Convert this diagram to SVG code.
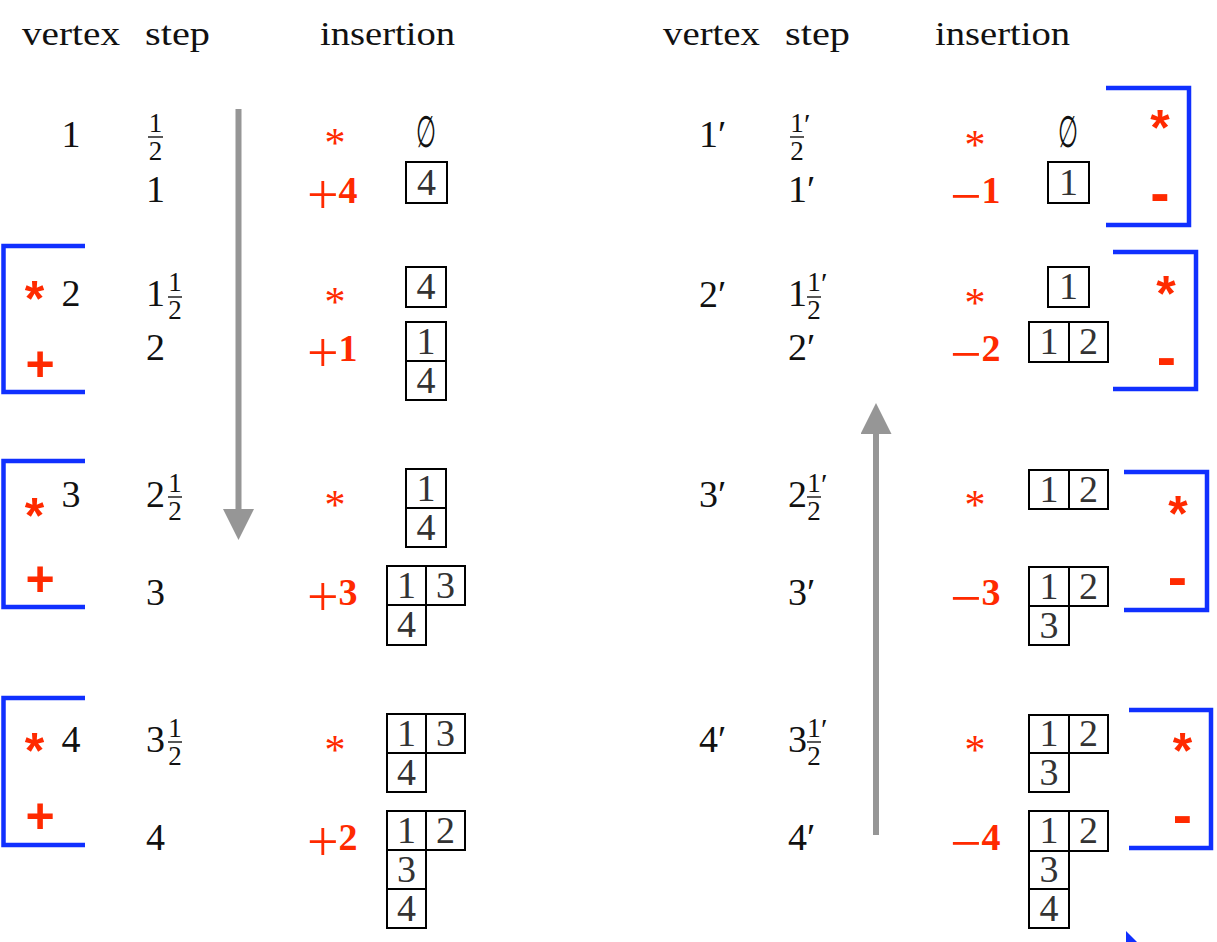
<svg xmlns="http://www.w3.org/2000/svg" width="1217" height="942" viewBox="0 0 1217 942">
  <style>
    .t { font-family: "Liberation Serif", "DejaVu Serif", serif; font-size: 38px; fill: #111; }
    .h { font-family: "Liberation Serif", "DejaVu Serif", serif; font-size: 34px; fill: #111; }
    .fr { font-family: "Liberation Serif", "DejaVu Serif", serif; font-size: 27px; fill: #111; text-anchor: middle; }
    .pr { font-family: "Liberation Serif", "DejaVu Serif", serif; font-size: 30px; fill: #111; }
    .es { font-family: "Liberation Serif", "DejaVu Serif", serif; font-size: 38px; fill: #111; text-anchor: middle; }
    .bar { stroke: #111; stroke-width: 1.4; }
    .cell { fill: none; stroke: #000; stroke-width: 2; }
    .cd { font-family: "Liberation Serif", "DejaVu Serif", serif; font-size: 38px; fill: #333; text-anchor: middle; }
    .rs { font-family: "Liberation Serif", "DejaVu Serif", serif; font-size: 42px; fill: #ff2a00; text-anchor: middle; }
    .ins { font-family: "Liberation Serif", "DejaVu Serif", serif; font-size: 38px; fill: #ff2a00; }
    .op { font-size: 56px; }
    .rb { font-weight: bold; }
    .mk { font-family: "Liberation Sans", Arial, sans-serif; font-size: 50px; font-weight: bold; fill: #ff2a00; text-anchor: middle; }
    .mm { font-family: "Liberation Sans", Arial, sans-serif; font-size: 58px; font-weight: bold; fill: #ff2a00; text-anchor: middle; }
    .br { fill: none; stroke: #1030ff; stroke-width: 4.5; }
    .flow { stroke: #969696; stroke-width: 6; fill: none; }
  </style>
  <defs>
    <marker id="head" viewBox="0 0 31 31" refX="0" refY="15.5" markerWidth="31" markerHeight="31" markerUnits="userSpaceOnUse" orient="auto">
      <path d="M0,0 L31,15.5 L0,31 z" fill="#969696"/>
    </marker>
  </defs>

  <!-- column headings -->
  <g id="headings">
    <text class="h" x="22" y="45" textLength="98" lengthAdjust="spacingAndGlyphs">vertex</text>
    <text class="h" x="145" y="45" textLength="65" lengthAdjust="spacingAndGlyphs">step</text>
    <text class="h" x="320" y="45" textLength="135" lengthAdjust="spacingAndGlyphs">insertion</text>
    <text class="h" x="663" y="45" textLength="97" lengthAdjust="spacingAndGlyphs">vertex</text>
    <text class="h" x="785" y="45" textLength="65" lengthAdjust="spacingAndGlyphs">step</text>
    <text class="h" x="935" y="45" textLength="135" lengthAdjust="spacingAndGlyphs">insertion</text>
  </g>

  <!-- flow arrows -->
  <g id="connectors">
    <line class="flow" x1="238.5" y1="109" x2="238.5" y2="509" marker-end="url(#head)"/>
    <line class="flow" x1="876" y1="835" x2="876" y2="434" marker-end="url(#head)"/>
  </g>

  <!-- ===== left half: insertion ===== -->
  <g id="v1">
    <text class="t" x="71" y="147" text-anchor="middle">1</text>
    <text class="fr" x="155.5" y="132">1</text>
    <line class="bar" x1="148" y1="137" x2="163" y2="137"/>
    <text class="fr" x="155.5" y="160">2</text>
    <text class="t" x="146" y="202">1</text>
    <text class="rs" x="335" y="157">*</text>
    <text class="es" transform="translate(425.5,147) scale(0.6,1.15)">∅</text>
    <text class="ins" x="307" y="203"><tspan class="op" dy="11">+</tspan><tspan class="rb" dy="-11">4</tspan></text>
    <rect class="cell" x="406" y="162" width="41" height="41"/>
    <text class="cd" x="426.5" y="195">4</text>
  </g>

  <g id="v2">
    <path class="br" d="M85,246 H3.5 V392 H85"/>
    <text class="mk" x="34.5" y="316">*</text>
    <text class="mk" x="40" y="381">+</text>
    <text class="t" x="71" y="306" text-anchor="middle">2</text>
    <text class="t" x="146" y="306">1</text>
    <text class="fr" x="175" y="291">1</text>
    <line class="bar" x1="168" y1="297" x2="182" y2="297"/>
    <text class="fr" x="175" y="319">2</text>
    <text class="t" x="146" y="360">2</text>
    <text class="rs" x="335" y="316">*</text>
    <rect class="cell" x="406" y="267" width="40" height="40"/>
    <text class="cd" x="426" y="299">4</text>
    <text class="ins" x="307" y="361"><tspan class="op" dy="11">+</tspan><tspan class="rb" dy="-11">1</tspan></text>
    <rect class="cell" x="406" y="322" width="40" height="39"/>
    <text class="cd" x="426" y="354">1</text>
    <rect class="cell" x="406" y="361" width="40" height="39"/>
    <text class="cd" x="426" y="393">4</text>
  </g>

  <g id="v3">
    <path class="br" d="M85,461 H3.5 V607 H85"/>
    <text class="mk" x="34.5" y="533">*</text>
    <text class="mk" x="40" y="596">+</text>
    <text class="t" x="71" y="507" text-anchor="middle">3</text>
    <text class="t" x="146" y="507">2</text>
    <text class="fr" x="175" y="492">1</text>
    <line class="bar" x1="168" y1="497" x2="182" y2="497"/>
    <text class="fr" x="175" y="520">2</text>
    <text class="t" x="146" y="605">3</text>
    <text class="rs" x="335" y="519">*</text>
    <rect class="cell" x="406" y="469" width="40" height="39"/>
    <text class="cd" x="426" y="501">1</text>
    <rect class="cell" x="406" y="508" width="40" height="39"/>
    <text class="cd" x="426" y="540">4</text>
    <text class="ins" x="307" y="605"><tspan class="op" dy="11">+</tspan><tspan class="rb" dy="-11">3</tspan></text>
    <rect class="cell" x="387" y="566" width="39" height="39"/>
    <text class="cd" x="406.5" y="598">1</text>
    <rect class="cell" x="426" y="566" width="39" height="39"/>
    <text class="cd" x="445.5" y="598">3</text>
    <rect class="cell" x="387" y="605" width="39" height="40"/>
    <text class="cd" x="406.5" y="637">4</text>
  </g>

  <g id="v4">
    <path class="br" d="M85,698 H3.5 V845 H85"/>
    <text class="mk" x="34.5" y="768">*</text>
    <text class="mk" x="40" y="833">+</text>
    <text class="t" x="71" y="752" text-anchor="middle">4</text>
    <text class="t" x="146" y="752">3</text>
    <text class="fr" x="175" y="737">1</text>
    <line class="bar" x1="168" y1="742" x2="182" y2="742"/>
    <text class="fr" x="175" y="765">2</text>
    <text class="t" x="146" y="850">4</text>
    <text class="rs" x="335" y="764">*</text>
    <rect class="cell" x="387" y="714" width="39" height="39"/>
    <text class="cd" x="406.5" y="746">1</text>
    <rect class="cell" x="426" y="714" width="39" height="39"/>
    <text class="cd" x="445.5" y="746">3</text>
    <rect class="cell" x="387" y="753" width="39" height="39"/>
    <text class="cd" x="406.5" y="785">4</text>
    <text class="ins" x="307" y="850"><tspan class="op" dy="11">+</tspan><tspan class="rb" dy="-11">2</tspan></text>
    <rect class="cell" x="387" y="811" width="39" height="39"/>
    <text class="cd" x="406.5" y="843">1</text>
    <rect class="cell" x="426" y="811" width="39" height="39"/>
    <text class="cd" x="445.5" y="843">2</text>
    <rect class="cell" x="387" y="850" width="39" height="39"/>
    <text class="cd" x="406.5" y="882">3</text>
    <rect class="cell" x="387" y="889" width="39" height="39"/>
    <text class="cd" x="406.5" y="921">4</text>
  </g>

  <!-- ===== right half: deletion ===== -->
  <g id="w1">
    <text class="t" x="699" y="147">1′</text>
    <text class="fr" x="797" y="132">1</text>
    <text class="pr" x="804" y="134">′</text>
    <line class="bar" x1="790" y1="137" x2="804" y2="137"/>
    <text class="fr" x="797" y="160">2</text>
    <text class="t" x="788" y="202">1′</text>
    <text class="rs" x="975" y="159">*</text>
    <text class="es" transform="translate(1068,147) scale(0.6,1.15)">∅</text>
    <text class="ins" x="950" y="203"><tspan class="op" dy="12">−</tspan><tspan class="rb" dy="-12">1</tspan></text>
    <rect class="cell" x="1048" y="162" width="41" height="41"/>
    <text class="cd" x="1068.5" y="195">1</text>
    <path class="br" d="M1106,88 H1189 V225 H1106"/>
    <text class="mk" x="1160" y="145">*</text>
    <text class="mm" x="1160" y="213">-</text>
  </g>

  <g id="w2">
    <text class="t" x="699" y="307">2′</text>
    <text class="t" x="788" y="306">1</text>
    <text class="fr" x="814" y="291">1</text>
    <text class="pr" x="821" y="293">′</text>
    <line class="bar" x1="807" y1="297" x2="821" y2="297"/>
    <text class="fr" x="814" y="319">2</text>
    <text class="t" x="788" y="360">2′</text>
    <text class="rs" x="975" y="317">*</text>
    <rect class="cell" x="1048" y="267" width="41" height="40"/>
    <text class="cd" x="1068.5" y="299">1</text>
    <text class="ins" x="950" y="361"><tspan class="op" dy="12">−</tspan><tspan class="rb" dy="-12">2</tspan></text>
    <rect class="cell" x="1029" y="322" width="40" height="40"/>
    <text class="cd" x="1049" y="354">1</text>
    <rect class="cell" x="1069" y="322" width="39" height="40"/>
    <text class="cd" x="1088.5" y="354">2</text>
    <path class="br" d="M1113,252 H1196 V389 H1113"/>
    <text class="mk" x="1166" y="311">*</text>
    <text class="mm" x="1166.5" y="377">-</text>
  </g>

  <g id="w3">
    <text class="t" x="699" y="507">3′</text>
    <text class="t" x="788" y="507">2</text>
    <text class="fr" x="814" y="492">1</text>
    <text class="pr" x="821" y="494">′</text>
    <line class="bar" x1="807" y1="497" x2="821" y2="497"/>
    <text class="fr" x="814" y="520">2</text>
    <text class="t" x="788" y="605">3′</text>
    <text class="rs" x="975" y="519">*</text>
    <rect class="cell" x="1029" y="470" width="40" height="39"/>
    <text class="cd" x="1049" y="502">1</text>
    <rect class="cell" x="1069" y="470" width="39" height="39"/>
    <text class="cd" x="1088.5" y="502">2</text>
    <text class="ins" x="950" y="605"><tspan class="op" dy="12">−</tspan><tspan class="rb" dy="-12">3</tspan></text>
    <rect class="cell" x="1029" y="567" width="40" height="39"/>
    <text class="cd" x="1049" y="599">1</text>
    <rect class="cell" x="1069" y="567" width="39" height="39"/>
    <text class="cd" x="1088.5" y="599">2</text>
    <rect class="cell" x="1029" y="606" width="40" height="39"/>
    <text class="cd" x="1049" y="638">3</text>
    <path class="br" d="M1124,472 H1207 V610 H1124"/>
    <text class="mk" x="1178" y="531">*</text>
    <text class="mm" x="1177.5" y="597">-</text>
  </g>

  <g id="w4">
    <text class="t" x="699" y="752">4′</text>
    <text class="t" x="788" y="752">3</text>
    <text class="fr" x="814" y="737">1</text>
    <text class="pr" x="821" y="739">′</text>
    <line class="bar" x1="807" y1="742" x2="821" y2="742"/>
    <text class="fr" x="814" y="765">2</text>
    <text class="t" x="788" y="850">4′</text>
    <text class="rs" x="975" y="764">*</text>
    <rect class="cell" x="1029" y="715" width="40" height="38"/>
    <text class="cd" x="1049" y="746">1</text>
    <rect class="cell" x="1069" y="715" width="39" height="38"/>
    <text class="cd" x="1088.5" y="746">2</text>
    <rect class="cell" x="1029" y="753" width="40" height="39"/>
    <text class="cd" x="1049" y="785">3</text>
    <text class="ins" x="950" y="850"><tspan class="op" dy="12">−</tspan><tspan class="rb" dy="-12">4</tspan></text>
    <rect class="cell" x="1029" y="811" width="40" height="40"/>
    <text class="cd" x="1049" y="843">1</text>
    <rect class="cell" x="1069" y="811" width="39" height="40"/>
    <text class="cd" x="1088.5" y="843">2</text>
    <rect class="cell" x="1029" y="851" width="40" height="38"/>
    <text class="cd" x="1049" y="882">3</text>
    <rect class="cell" x="1029" y="889" width="40" height="39"/>
    <text class="cd" x="1049" y="921">4</text>
    <path class="br" d="M1129,710 H1211 V848 H1129"/>
    <text class="mk" x="1182.5" y="768">*</text>
    <text class="mm" x="1182.5" y="835">-</text>
  </g>

  <!-- blue corner at the lower edge -->
  <polygon points="1126,931 1137,942 1126,942" fill="#1030ff"/>
</svg>
